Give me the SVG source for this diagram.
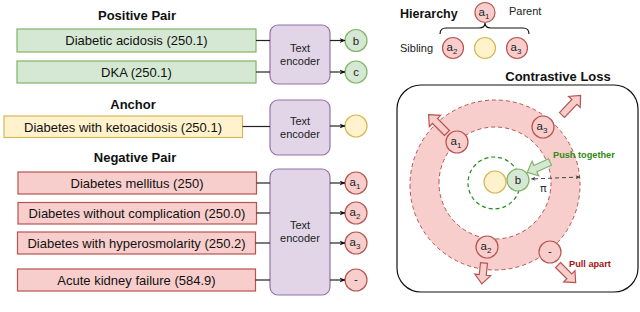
<svg xmlns="http://www.w3.org/2000/svg" width="640" height="312" viewBox="0 0 640 312">
<style>
text{font-family:"Liberation Sans",Arial,sans-serif;fill:#111}
.t{font-size:13px;text-anchor:middle}
.h{font-size:13px;font-weight:bold;text-anchor:middle}
.enc{font-size:11px;text-anchor:middle;fill:#222}
.cl{font-size:11.5px;text-anchor:middle;fill:#222}
.sub{font-size:8px}
.g{fill:#d5e8d4;stroke:#82b366;stroke-width:1.2}
.y{fill:#fff2cc;stroke:#d6b656;stroke-width:1.2}
.r{fill:#f8cecc;stroke:#b85450;stroke-width:1.2}
.p{fill:#e1d5e7;stroke:#9673a6;stroke-width:1.2}
.ln{stroke:#222;stroke-width:1.2;fill:none}
.ar{stroke:#222;stroke-width:1.2;fill:none;marker-end:url(#ah)}
</style>
<defs>
<marker id="ah" viewBox="0 0 10 10" refX="9" refY="5" markerWidth="6" markerHeight="6" orient="auto" markerUnits="userSpaceOnUse"><path d="M0,1 L10,5 L0,9 L3,5 Z" fill="#111"/></marker>
<marker id="dh" viewBox="0 0 10 10" refX="9" refY="5" markerWidth="5" markerHeight="5" orient="auto-start-reverse" markerUnits="userSpaceOnUse"><path d="M0,1 L10,5 L0,9 L3,5 Z" fill="#444"/></marker>
</defs>
<rect width="640" height="312" fill="#fff"/>

<!-- Titles -->
<text class="h" x="137" y="20">Positive Pair</text>
<text class="h" x="133" y="109">Anchor</text>
<text class="h" x="135" y="162">Negative Pair</text>

<!-- Left boxes -->
<g id="pos1"><rect class="g" x="17" y="29" width="239" height="23"/><text class="t" x="136.5" y="45">Diabetic acidosis (250.1)</text></g>
<g id="pos2"><rect class="g" x="17" y="61" width="239" height="22"/><text class="t" x="136.5" y="76.5">DKA (250.1)</text></g>
<g id="anchor"><rect class="y" x="4" y="116" width="238.5" height="21.5"/><text class="t" x="123" y="131.5">Diabetes with ketoacidosis (250.1)</text></g>
<g id="neg1"><rect class="r" x="18" y="172" width="238.5" height="22"/><text class="t" x="137" y="187.5">Diabetes mellitus (250)</text></g>
<g id="neg2"><rect class="r" x="18" y="202.5" width="238.5" height="21.5"/><text class="t" x="137" y="218">Diabetes without complication (250.0)</text></g>
<g id="neg3"><rect class="r" x="17.5" y="232" width="238" height="22"/><text class="t" x="136.5" y="247.5">Diabetes with hyperosmolarity (250.2)</text></g>
<g id="neg4"><rect class="r" x="17.5" y="269" width="238" height="22"/><text class="t" x="136.5" y="284.5">Acute kidney failure (584.9)</text></g>

<!-- Encoders -->
<g id="enc1"><rect class="p" x="270" y="25" width="60" height="59" rx="8"/><text class="enc" x="300" y="52">Text</text><text class="enc" x="300" y="65">encoder</text></g>
<g id="enc2"><rect class="p" x="270" y="100" width="60" height="55" rx="8"/><text class="enc" x="300" y="125">Text</text><text class="enc" x="300" y="138">encoder</text></g>
<g id="enc3"><rect class="p" x="270" y="169" width="60" height="126" rx="8"/><text class="enc" x="300" y="229">Text</text><text class="enc" x="300" y="242">encoder</text></g>

<!-- Output circles -->
<g id="out-b"><circle class="g" cx="356" cy="40.5" r="11"/><text class="cl" x="356" y="44.5">b</text></g>
<g id="out-c"><circle class="g" cx="356" cy="72" r="11"/><text class="cl" x="356" y="76">c</text></g>
<g id="out-anchor"><circle class="y" cx="356" cy="126" r="11"/></g>
<g id="out-a1"><circle class="r" cx="356" cy="183" r="11"/><text class="cl" x="355" y="186">a<tspan class="sub" dy="3">1</tspan></text></g>
<g id="out-a2"><circle class="r" cx="356" cy="213" r="11"/><text class="cl" x="355" y="216">a<tspan class="sub" dy="3">2</tspan></text></g>
<g id="out-a3"><circle class="r" cx="356" cy="243" r="11"/><text class="cl" x="355" y="246">a<tspan class="sub" dy="3">3</tspan></text></g>
<g id="out-neg"><circle class="r" cx="356" cy="280" r="11"/><text class="cl" x="356" y="283">-</text></g>

<!-- Connectors -->
<g id="connectors">
<line class="ln" x1="256" y1="40.5" x2="270" y2="40.5"/>
<line class="ln" x1="256" y1="72" x2="270" y2="72"/>
<line class="ln" x1="242.5" y1="126.5" x2="270" y2="126.5"/>
<line class="ln" x1="256.5" y1="183" x2="270" y2="183"/>
<line class="ln" x1="256.5" y1="213" x2="270" y2="213"/>
<line class="ln" x1="255.5" y1="243" x2="270" y2="243"/>
<line class="ln" x1="255.5" y1="280" x2="270" y2="280"/>
<line class="ar" x1="330" y1="40.5" x2="345" y2="40.5"/>
<line class="ar" x1="330" y1="72" x2="345" y2="72"/>
<line class="ar" x1="330" y1="126" x2="345" y2="126"/>
<line class="ar" x1="330" y1="183" x2="345" y2="183"/>
<line class="ar" x1="330" y1="213" x2="345" y2="213"/>
<line class="ar" x1="330" y1="243" x2="345" y2="243"/>
<line class="ar" x1="330" y1="280" x2="345" y2="280"/>
</g>

<!-- Hierarchy -->
<g id="hierarchy">
<text x="400" y="18" style="font-size:12.5px;font-weight:bold">Hierarchy</text>
<circle class="r" cx="485" cy="12.5" r="10"/><text class="cl" x="484" y="15.5">a<tspan class="sub" dy="3">1</tspan></text>
<text x="509" y="15" style="font-size:11px;fill:#222">Parent</text>
<path d="M440,34 Q440,28 446,28 L479,28 Q485,28 485,23 Q485,28 491,28 L523,28 Q529,28 529,34" fill="none" stroke="#111" stroke-width="1.2"/>
<text x="400" y="52" style="font-size:11px;fill:#222">Sibling</text>
<circle class="r" cx="453" cy="48" r="10.5"/><text class="cl" x="452" y="51">a<tspan class="sub" dy="3">2</tspan></text>
<circle class="y" cx="485" cy="48" r="10.5"/>
<circle class="r" cx="517" cy="48" r="10.5"/><text class="cl" x="516" y="51">a<tspan class="sub" dy="3">3</tspan></text>
</g>

<!-- Contrastive loss -->
<g id="contrastive">
<text class="h" x="558" y="81">Contrastive Loss</text>
<rect x="397" y="85" width="241" height="207" rx="24" fill="#fff" stroke="#111" stroke-width="1.2"/>
<path d="M410,185 A85,85 0 1,0 580,185 A85,85 0 1,0 410,185 Z M439,183 A56,56 0 1,1 551,183 A56,56 0 1,1 439,183 Z" fill="#f8cecc" fill-rule="evenodd" stroke="#b85450" stroke-width="1" stroke-dasharray="4 3"/>
<circle cx="494" cy="183" r="26" fill="none" stroke="#1f8a1f" stroke-width="1.2" stroke-dasharray="4 3"/>
<circle class="y" cx="495" cy="182" r="11"/>
<circle class="g" cx="518" cy="180" r="11"/><text class="cl" x="518" y="184">b</text>
<line x1="580" y1="177" x2="531" y2="179" stroke="#444" stroke-width="1" stroke-dasharray="4 3" marker-start="url(#dh)" marker-end="url(#dh)"/>
<text x="540" y="192" style="font-size:11px;fill:#333;font-family:'DejaVu Sans',sans-serif">π</text>

<!-- Block arrows -->
<g class="r">
<path transform="translate(447,133) rotate(225)" d="M0,-3.5 L17,-3.5 L17,-8 L26,0 L17,8 L17,3.5 L0,3.5 Z"/>
<path transform="translate(562,115) rotate(-46.5)" d="M0,-3.5 L18,-3.5 L18,-8 L27,0 L18,8 L18,3.5 L0,3.5 Z"/>
<path transform="translate(484,263) rotate(96)" d="M0,-3.5 L12,-3.5 L12,-8 L21,0 L12,8 L12,3.5 L0,3.5 Z"/>
<path transform="translate(558,265) rotate(45)" d="M0,-3.5 L16,-3.5 L16,-8 L25,0 L16,8 L16,3.5 L0,3.5 Z"/>
</g>
<path class="g" transform="translate(550,162) rotate(155.6)" d="M0,-3.5 L16,-3.5 L16,-8 L25,0 L16,8 L16,3.5 L0,3.5 Z"/>

<circle class="r" cx="457" cy="142" r="11"/><text class="cl" x="456" y="145">a<tspan class="sub" dy="3">1</tspan></text>
<circle class="r" cx="543" cy="127" r="11"/><text class="cl" x="542" y="130">a<tspan class="sub" dy="3">3</tspan></text>
<circle class="r" cx="487" cy="247" r="11"/><text class="cl" x="486" y="250">a<tspan class="sub" dy="3">2</tspan></text>
<circle class="r" cx="550" cy="252" r="11"/><text class="cl" x="550" y="255">-</text>

<text x="553" y="157.5" style="font-size:9.2px;font-weight:bold;fill:#2e8b12">Push together</text>
<text x="569" y="266.5" style="font-size:9.2px;font-weight:bold;fill:#a31515">Pull apart</text>
</g>
</svg>
